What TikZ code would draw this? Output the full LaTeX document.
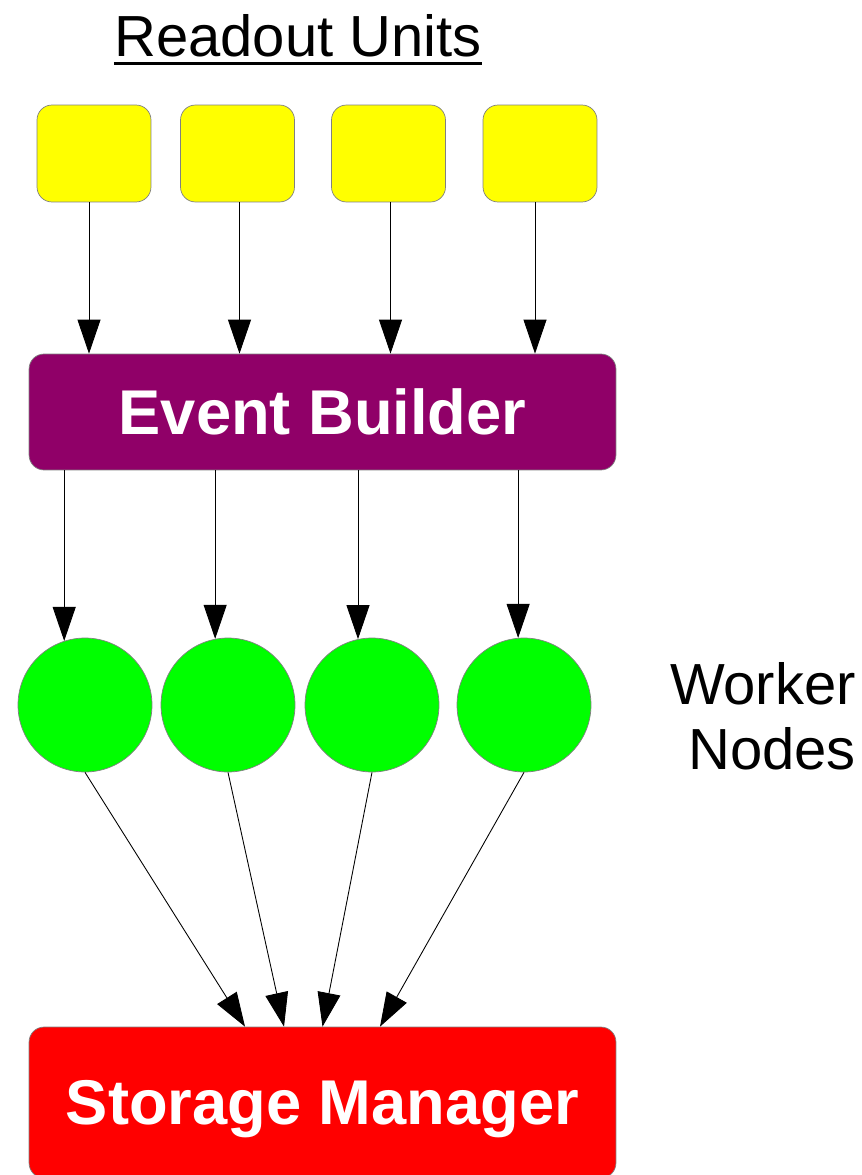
\documentclass[tikz,border=0pt]{standalone}
\usepackage{fontspec}
\setmainfont{Liberation Sans}
\usetikzlibrary{arrows.meta}
\definecolor{ebpurple}{HTML}{900068}
\definecolor{smred}{HTML}{FF0000}
\definecolor{ruyellow}{HTML}{FFFF00}
\definecolor{wngreen}{HTML}{00FF00}

\begin{document}
\begin{tikzpicture}[x=0.02cm,y=-0.02cm,
  ru/.style={draw=gray,fill=ruyellow,rounded corners=0.3cm,minimum width=2.28cm,minimum height=1.94cm,inner sep=0pt},
  wn/.style={circle,draw=gray,fill=wngreen,minimum size=2.68cm,inner sep=0pt},
  stage/.style={draw=gray,rounded corners=0.3cm,minimum width=11.74cm,text=white,inner sep=0pt,text depth=0pt,font=\bfseries\fontsize{36}{40}\selectfont},
  flow/.style={-{Triangle[width=0.46cm,length=0.68cm]},line width=0.5pt}]
\useasboundingbox (0,0) rectangle (861,1175);
\node[font=\fontsize{33}{37}\selectfont,inner sep=0pt] (title) at (298,36) {Readout Units};
\draw[line width=1.6pt] ([yshift=-0.13cm]title.base west) -- ([yshift=-0.13cm]title.base east);
\foreach \i/\x in {1/94,2/237.5,3/388.5,4/540}{\node[ru] (ru\i) at (\x,153.5) {};}
\node[stage,fill=ebpurple,minimum height=2.32cm] (eb) at (322.5,412) {Event Builder};
\foreach \i/\x in {1/85,2/228,3/372,4/524}{\node[wn] (wn\i) at (\x,705) {};}
\node[font=\fontsize{33}{37}\selectfont,align=right,anchor=east] (wlab) at (862,716) {Worker\\Nodes};
\node[stage,fill=smred,minimum height=3.02cm] (sm) at (322.5,1102.5) {Storage Manager};
\foreach \i/\s in {1/-0.1,2/0.04,3/0.04,4/-0.1}{\draw[flow] ([xshift=\s cm]ru\i.south) -- ([xshift=\s cm]ru\i.south |- eb.north);}
\foreach \i/\a in {1/108,2/101,3/102,4/95}{\draw[flow] (eb.south -| wn\i.\a) -- (wn\i.\a);}
\foreach \i/\s in {1/-1.55,2/-0.77,3/0,4/1.15}{\draw[flow] (wn\i.south) -- ([xshift=\s cm]sm.north);}
\end{tikzpicture}
\end{document}
